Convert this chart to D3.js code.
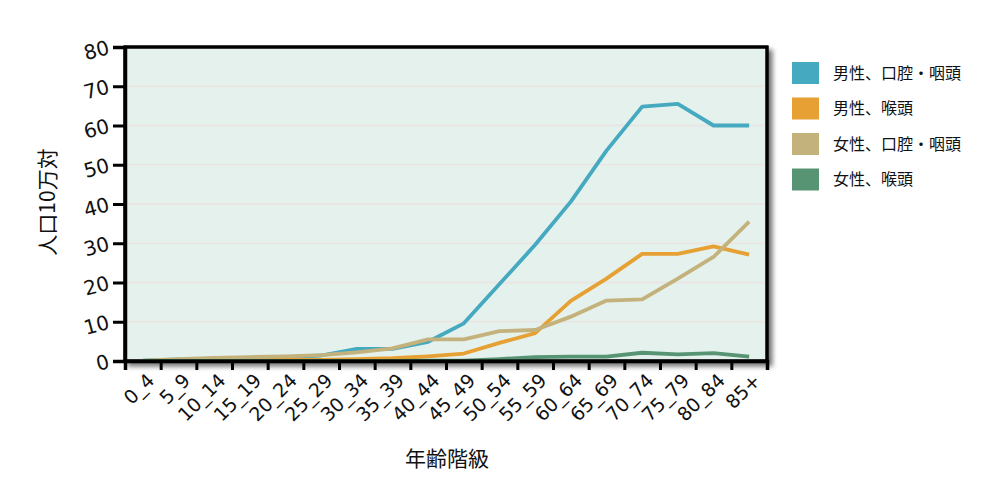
<!DOCTYPE html>
<html>
<head>
<meta charset="utf-8">
<script src="https://cdn.jsdelivr.net/npm/d3@7"></script>
<style>
  body { margin: 0; background: #fff; }
  svg text { fill: #111; }
</style>
</head>
<body>
<div class="chart"></div>
<script>
var ageGroups = ["0_4","5_9","10_14","15_19","20_24","25_29","30_34","35_39","40_44","45_49","50_54","55_59","60_64","65_69","70_74","75_79","80_84","85+"];
var seriesNames = ["男性、口腔・咽頭","男性、喉頭","女性、口腔・咽頭","女性、喉頭"];
var maleOral   = [0.1,0.4,0.6,0.7,0.9,1.4,3.1,3.1,4.9,9.6,19.6,29.6,40.6,53.6,64.8,65.5,60.0,60.0];
var maleLarynx = [0.0,0.1,0.1,0.2,0.3,0.3,0.5,0.7,1.2,1.9,4.6,7.1,15.3,21.0,27.3,27.3,29.2,27.1];
var femOral    = [0.1,0.5,0.8,1.0,1.2,1.5,2.2,3.2,5.5,5.5,7.6,7.9,11.3,15.4,15.7,21.0,26.5,35.5];
var femLarynx  = [0.0,0.0,0.0,0.0,0.0,0.0,0.0,0.0,0.1,0.1,0.5,1.0,1.1,1.1,2.1,1.7,2.0,1.1];
var yTicks = [0,10,20,30,40,50,60,70,80];
var colors = ["#45a9c0","#e6a033","#c4b27c","#569473"];

var margin = {top: 47, right: 233, bottom: 142, left: 125},
    width = 1000 - margin.left - margin.right,
    height = 503 - margin.top - margin.bottom;

var allSeries = [maleOral, maleLarynx, femOral, femLarynx];

var svg = d3.select(".chart").append("svg")
    .attr("width", 1000).attr("height", 503);

var defs = svg.append("defs");
var f = defs.append("filter").attr("id", "shadow")
    .attr("x", "-5%").attr("y", "-5%").attr("width", "115%").attr("height", "120%");
f.append("feGaussianBlur").attr("in", "SourceAlpha").attr("stdDeviation", 2.5).attr("result", "b");
f.append("feOffset").attr("in", "b").attr("dx", 4).attr("dy", 4).attr("result", "o");
f.append("feComponentTransfer").attr("in", "o").attr("result", "o2")
    .append("feFuncA").attr("type", "linear").attr("slope", 0.55);
var fm = f.append("feMerge");
fm.append("feMergeNode").attr("in", "o2");
fm.append("feMergeNode").attr("in", "SourceGraphic");

var g = svg.append("g").attr("transform", "translate(" + margin.left + "," + margin.top + ")");

var x = d3.scaleBand().domain(ageGroups).range([0, width]);
var y = d3.scaleLinear().domain([0, 80]).range([height, 0]);

// plot background with shadow
g.append("rect")
    .attr("width", width).attr("height", height)
    .attr("fill", "#e5f1ec")
    .attr("stroke", "#000").attr("stroke-width", 3)
    .attr("filter", "url(#shadow)");

// gridlines
g.selectAll(".grid").data(yTicks.slice(1, -1)).enter().append("line")
    .attr("x1", 2).attr("x2", width - 2)
    .attr("y1", function(d){ return y(d); })
    .attr("y2", function(d){ return y(d); })
    .attr("stroke", "#eae6e4").attr("stroke-width", 2);

// lines
var line = d3.line()
    .x(function(d, i){ return x(ageGroups[i]) + x.bandwidth() / 2; })
    .y(function(d){ return y(d); });

allSeries.forEach(function(s, k){
    g.append("path").datum(s)
        .attr("d", line)
        .attr("fill", "none")
        .attr("stroke", colors[k])
        .attr("stroke-width", 3.8)
        .attr("stroke-linejoin", "round");
});

// frame on top
g.append("rect")
    .attr("width", width).attr("height", height)
    .attr("fill", "none")
    .attr("stroke", "#000").attr("stroke-width", 3);

// y axis
var yAxis = d3.axisLeft(y).tickValues(yTicks).tickSize(12).tickPadding(4);
var ya = g.append("g").call(yAxis);
ya.select(".domain").attr("stroke-width", 3.5);
ya.selectAll(".tick line").attr("stroke-width", 3);
ya.selectAll("text")
    .style("font-family", "'DejaVu Sans', Verdana, sans-serif")
    .style("font-size", "20px")
    .attr("transform", "rotate(-15,-16,0)");

// x axis: boundary ticks
var xb = d3.scaleLinear().domain([0, ageGroups.length]).range([0, width]);
var xTickAxis = d3.axisBottom(xb).ticks(ageGroups.length).tickSize(9).tickFormat("");
var xt = g.append("g").attr("transform", "translate(0," + height + ")").call(xTickAxis);
xt.select(".domain").attr("stroke-width", 3.5);
xt.selectAll(".tick line").attr("stroke-width", 3);

// x axis: labels at centers
var xAxis = d3.axisBottom(x).tickSize(0).tickPadding(0);
var xl = g.append("g").attr("transform", "translate(0," + height + ")").call(xAxis);
xl.select(".domain").remove();
xl.selectAll("text")
    .style("font-family", "'DejaVu Sans', Verdana, sans-serif")
    .style("font-size", "19px")
    .style("text-anchor", "end")
    .attr("y", 0)
    .attr("dy", "0.35em")
    .attr("transform", "translate(8,16) rotate(-45)");

// axis titles
g.append("text")
    .attr("x", width / 2 + 1).attr("y", height + 105)
    .style("text-anchor", "middle")
    .style("font-family", "'Noto Sans CJK JP', sans-serif")
    .style("font-size", "21px")
    .text("年齢階級");

g.append("text")
    .attr("transform", "rotate(-90)")
    .attr("x", -height / 2 + 2).attr("y", -70)
    .style("text-anchor", "middle")
    .style("font-family", "'Noto Sans CJK JP', sans-serif")
    .style("font-size", "21px")
    .text("人口10万対");

// legend
var legend = svg.append("g").attr("transform", "translate(792,62)");
var items = legend.selectAll(".item").data(seriesNames).enter().append("g")
    .attr("transform", function(d, i){ return "translate(0," + (i * 35.5) + ")"; });
items.append("rect")
    .attr("width", 27).attr("height", 22)
    .attr("fill", function(d, i){ return colors[i]; });
items.append("text")
    .attr("x", 41).attr("y", 11).attr("dy", "0.35em")
    .style("font-family", "'Noto Sans CJK JP', sans-serif")
    .style("font-size", "16px")
    .text(function(d){ return d; });
</script>
</body>
</html>
